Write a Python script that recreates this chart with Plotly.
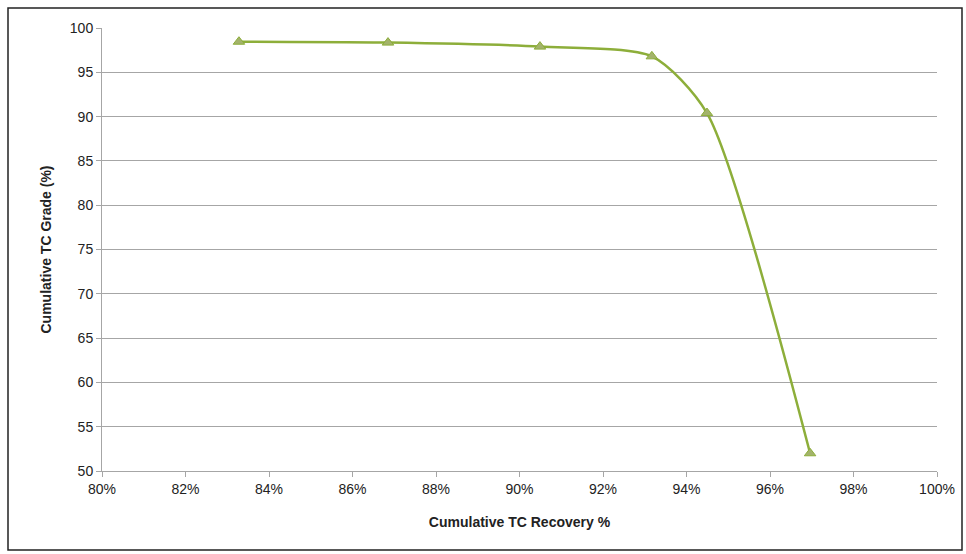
import plotly.graph_objects as go

recovery = [0.8328, 0.8685, 0.9049, 0.9317, 0.9449, 0.9696]
grade = [98.45, 98.35, 97.9, 96.8, 90.4, 52.0]

W, H = 966, 554
L, R, T, B = 102, 29, 28, 83
pw, ph = W - L - R, H - T - B

def px(x):
    return (x - L) / pw

def py(y):
    return (H - B - y) / ph

fig = go.Figure()
fig.add_trace(go.Scatter(
    x=recovery, y=grade, mode="lines+markers",
    line=dict(color="#8DAE3A", width=2.5, shape="spline", smoothing=0.7),
    marker=dict(symbol="triangle-up", size=10, color="#A3B36B",
                line=dict(color="#8DAE3A", width=1)),
    showlegend=False,
))

font = dict(family="Liberation Sans Narrow, Arial Narrow, Liberation Sans, sans-serif", size=14, color="#222222")

fig.update_layout(
    width=W, height=H,
    margin=dict(l=L, r=R, t=T, b=B),
    paper_bgcolor="white", plot_bgcolor="white",
    font=font,
    xaxis=dict(
        range=[0.8, 1.0], dtick=0.02, tick0=0.8, tickformat=".0%",
        showgrid=False, showline=True, linecolor="#A6A6A6", linewidth=1,
        ticks="outside", ticklen=5, tickcolor="#A6A6A6",
        zeroline=False, fixedrange=True,
        title=dict(text="<b>Cumulative TC Recovery %</b>", standoff=21,
                   font=dict(family="Liberation Sans Narrow, Liberation Sans, sans-serif", size=14)),
    ),
    yaxis=dict(
        range=[50, 100], dtick=5, tick0=50,
        showgrid=True, gridcolor="#A6A6A6", gridwidth=1,
        showline=True, linecolor="#A6A6A6", linewidth=1,
        ticks="outside", ticklen=5, tickcolor="#A6A6A6",
        zeroline=False,
        title=dict(text="<b>Cumulative TC Grade (%)</b>", standoff=14,
                   font=dict(family="Liberation Sans Narrow, Liberation Sans, sans-serif", size=14)),
    ),
    shapes=[dict(type="rect", xref="paper", yref="paper",
                 x0=px(8), x1=px(962), y0=py(550), y1=py(8),
                 line=dict(color="#222222", width=1.5), fillcolor="rgba(0,0,0,0)",
                 layer="below")],
)

fig.write_html("out.html", config={"displayModeBar": False},
               post_script="document.body.style.margin='0';document.body.style.overflow='hidden';")
